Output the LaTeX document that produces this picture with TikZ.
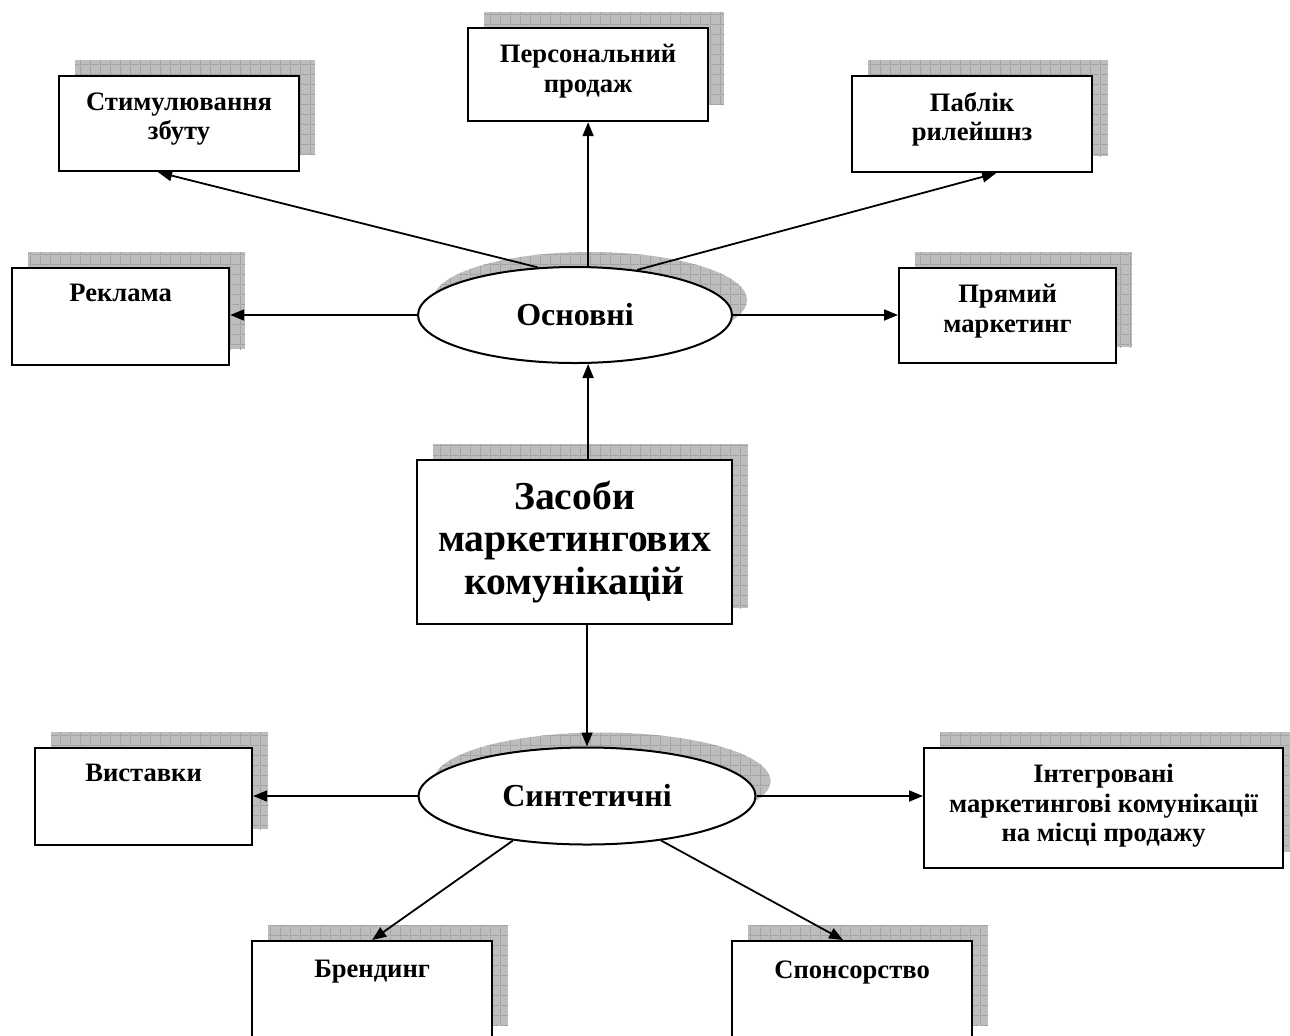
\documentclass[tikz,border=0pt]{standalone}
\usepackage{fontspec}
\setmainfont{Liberation Serif}
\usetikzlibrary{shapes.geometric,arrows.meta,shadows,patterns}

\pgfdeclarepatternformonly{gridlines}{\pgfpointorigin}{\pgfqpoint{5pt}{5pt}}{\pgfqpoint{5pt}{5pt}}{%
  \pgfsetlinewidth{0.5pt}
  \pgfpathmoveto{\pgfqpoint{0pt}{0.25pt}}
  \pgfpathlineto{\pgfqpoint{5pt}{0.25pt}}
  \pgfpathmoveto{\pgfqpoint{0.25pt}{0pt}}
  \pgfpathlineto{\pgfqpoint{0.25pt}{5pt}}
  \pgfusepath{stroke}}

\tikzset{
  gridshadow/.style={
    general shadow={shadow xshift=#1, shadow yshift=#1, draw=none, fill=gray!52},
    general shadow={shadow xshift=#1, shadow yshift=#1, draw=none, pattern=gridlines, pattern color=gray!72}},
  box/.style={draw, line width=1.1pt, fill=white, anchor=north west, inner sep=0pt, gridshadow=8pt},
  boxtext/.style={anchor=north, yshift=-8.5pt, align=center, inner sep=0pt,
    font=\bfseries\fontsize{13.3}{14.7}\selectfont},
  oval/.style={ellipse, draw, line width=1pt, fill=white, inner sep=0pt, gridshadow=7.5pt,
    font=\bfseries\fontsize{16}{19}\selectfont},
  arr/.style={-{Triangle[length=7pt,width=5.5pt]}, line width=0.9pt}
}

\begin{document}
\begin{tikzpicture}[x=0.5pt, y=-0.5pt]
\useasboundingbox (0,0) rectangle (1290,1035);

\node[box, minimum width=120pt, minimum height=47.5pt, label={[boxtext]north:{Стимулювання\\збуту}}] (Stymul) at (58,75) {};
\node[box, minimum width=120pt, minimum height=46.5pt, label={[boxtext]north:{Персональний\\продаж}}] (Personal) at (467,27) {};
\node[box, minimum width=120pt, minimum height=48pt, label={[boxtext]north:{Паблік\\рилейшнз}}] (Pablik) at (851,75) {};
\node[box, minimum width=108.5pt, minimum height=48.5pt, label={[boxtext]north:Реклама}] (Reklama) at (11,267) {};
\node[box, minimum width=108.5pt, minimum height=47.5pt, label={[boxtext]north:{Прямий\\маркетинг}}] (Pryamyi) at (898,267) {};

\node[oval, minimum width=157pt, minimum height=48pt] (Osnovni) at (575,315) {Основні};

\node[box, minimum width=157.5pt, minimum height=82pt, align=center, anchor=center,
  font=\bfseries\fontsize{19.8}{21.4}\selectfont] (Zasoby) at (574.5,542) {Засоби\\маркетингових\\комунікацій};

\node[oval, minimum width=168.5pt, minimum height=48.5pt] (Syntetychni) at (587,796) {Синтетичні};

\node[box, minimum width=108.5pt, minimum height=48.5pt, label={[boxtext]north:Виставки}] (Vystavky) at (34,747) {};
\node[box, minimum width=179.5pt, minimum height=60pt, label={[boxtext]north:{Інтегровані\\маркетингові комунікації\\на місці продажу}}] (Intehrovani) at (923,747) {};
\node[box, minimum width=120pt, minimum height=50pt, label={[boxtext, yshift=-1.5pt]north:Брендинг}] (Brendyng) at (251,940) {};
\node[box, minimum width=120pt, minimum height=50pt, label={[boxtext, yshift=-1.5pt]north:Спонсорство}] (Sponsorstvo) at (731,940) {};

\draw[arr] (Osnovni.west) -- (Reklama.east |- Osnovni.west);
\draw[arr] (Osnovni.east) -- (Pryamyi.west |- Osnovni.east);
\draw[arr] (Osnovni.north -| Personal.south) -- (Personal.south);
\draw[arr] (Osnovni.128) -- ([xshift=-10.5pt]Stymul.south);
\draw[arr] (Osnovni.36) -- ([xshift=12pt]Pablik.south);
\draw[arr] (Zasoby.north -| Personal.south) -- (Osnovni.south -| Personal.south);
\draw[arr] (Zasoby.south -| Syntetychni.north) -- (Syntetychni.north);
\draw[arr] (Syntetychni.west) -- (Vystavky.east |- Syntetychni.west);
\draw[arr] (Syntetychni.east) -- (Intehrovani.west |- Syntetychni.east);
\draw[arr] (Syntetychni.211) -- (Brendyng.north);
\draw[arr] (Syntetychni.329) -- ([xshift=-4.5pt]Sponsorstvo.north);

\end{tikzpicture}
\end{document}
